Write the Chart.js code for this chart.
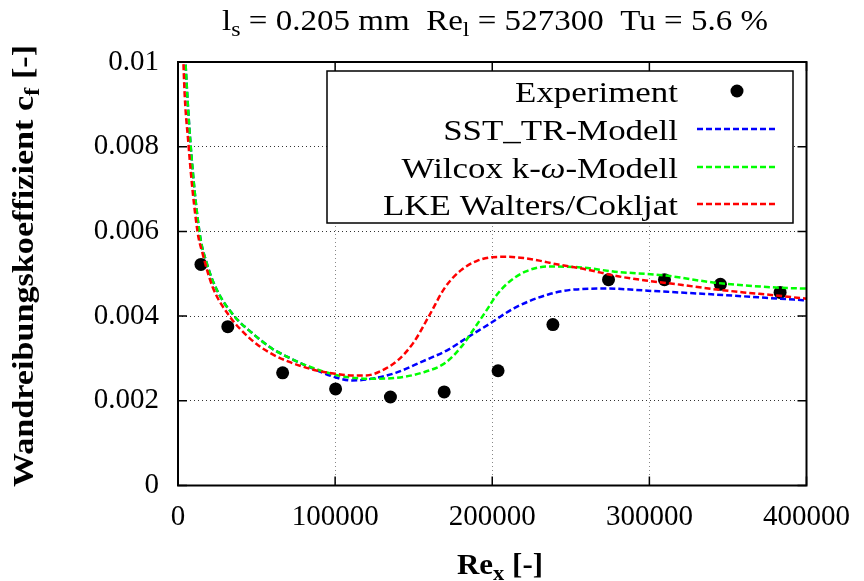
<!DOCTYPE html>
<html><head><meta charset="utf-8">
<script src="https://cdn.jsdelivr.net/npm/chart.js@4.4.1/dist/chart.umd.min.js"></script>
<style>html,body{margin:0;padding:0;background:#fff}#wrap{width:864px;height:581px}</style>
</head><body><div id="wrap"><canvas id="c" width="864" height="581"></canvas></div>
<script>
// ---- data ----
const expX = [14600, 31700, 66600, 100300, 135200, 169400, 203700, 238600, 274000, 309600, 345200, 383200];
const expY = [0.00522, 0.00375, 0.00266, 0.00228, 0.00209, 0.00221, 0.00271, 0.0038, 0.00486, 0.00486, 0.00475, 0.00456];

const sstX = [3500, 4750, 7900, 13600, 18700, 25000, 35800, 47200, 60000, 70000, 83400, 100500, 110600, 121400, 138500, 155000, 172100, 184800, 197500, 214600, 235600, 252700, 273600, 299000, 341500, 383300, 400400];
const sstY = [0.0110, 0.0100, 0.0081, 0.0060, 0.0052, 0.0046, 0.0040, 0.0036, 0.00323, 0.00303, 0.00280, 0.00255, 0.00248, 0.00251, 0.00266, 0.00292, 0.00321, 0.00351, 0.0038, 0.0042, 0.00451, 0.00463, 0.00465, 0.0046, 0.00451, 0.00441, 0.00437];

const wilX = [3500, 4750, 7900, 13600, 18700, 25000, 35800, 47200, 60000, 70000, 83400, 100500, 121400, 138500, 155000, 170300, 180400, 189300, 197500, 202000, 210200, 221000, 235600, 256500, 278000, 309800, 341500, 383300, 400400];
const wilY = [0.0110, 0.0100, 0.0081, 0.0060, 0.0052, 0.0046, 0.0040, 0.0036, 0.00323, 0.00303, 0.00281, 0.00261, 0.00252, 0.00254, 0.00266, 0.0029, 0.00328, 0.00375, 0.0042, 0.00446, 0.00479, 0.00505, 0.00517, 0.00515, 0.00505, 0.00496, 0.00479, 0.00467, 0.00465];

const lkeX = [3000, 3490, 6660, 12400, 15500, 21900, 32700, 40000, 50000, 60000, 70000, 80000, 90000, 100000, 110000, 120000, 130000, 140000, 150000, 160000, 170000, 180000, 190000, 200000, 210000, 220000, 230000, 240000, 260000, 280000, 300000, 320000, 340000, 360000, 380000, 400000];
const lkeY = [0.0108, 0.00995, 0.00806, 0.0060, 0.0055, 0.0047, 0.0040, 0.00368, 0.00334, 0.00310, 0.00293, 0.00280, 0.00270, 0.00264, 0.0026, 0.0026, 0.00272, 0.00296, 0.00338, 0.00402, 0.00468, 0.00508, 0.0053, 0.00539, 0.0054, 0.00537, 0.00531, 0.00523, 0.0051, 0.00494, 0.00483, 0.00474, 0.00464, 0.00456, 0.00449, 0.00441];

const xTicks = [0, 100000, 200000, 300000, 400000];
const xTickLabels = ['0', '100000', '200000', '300000', '400000'];
const yTicks = [0, 0.002, 0.004, 0.006, 0.008, 0.01];
const yTickLabels = ['0', '0.002', '0.004', '0.006', '0.008', '0.01'];

const seriesNames = ['Experiment', 'SST_TR-Modell', 'Wilcox k-\u03c9-Modell', 'LKE Walters/Cokljat'];
const seriesColors = ['#000000', '#0000ff', '#00ff00', '#ff0000'];

// ---- helpers ----
const FONT = '"Liberation Serif", "DejaVu Serif", serif';
const pts = (xs, ys) => xs.map((x, i) => ({x: x, y: ys[i]}));

function drawRich(ctx, parts, x, y, o) {
  const size = o.size, sub = Math.round(size * 0.72);
  const fnt = (p) => (p.italic ? 'italic ' : '') + (o.bold ? 'bold ' : '') + (p.sub ? sub : size) + 'px ' + FONT;
  let total = 0;
  const ws = parts.map(p => { ctx.font = fnt(p); const w = ctx.measureText(p.t).width; total += w; return w; });
  const sx = o.width ? o.width / total : (o.hscale || 1);
  ctx.save();
  ctx.translate(x, y);
  if (o.rotate) ctx.rotate(o.rotate);
  ctx.scale(sx, 1);
  ctx.fillStyle = '#000';
  ctx.textBaseline = 'alphabetic';
  ctx.textAlign = 'left';
  let cx = o.align === 'center' ? -total / 2 : (o.align === 'right' ? -total : 0);
  parts.forEach((p, i) => {
    ctx.font = fnt(p);
    ctx.fillText(p.t, cx, p.sub ? size * 0.2 : 0);
    cx += ws[i];
  });
  ctx.restore();
  return total;
}

const decor = {
  id: 'decor',
  beforeDraw(chart) {
    const ctx = chart.ctx;
    ctx.save(); ctx.fillStyle = '#fff'; ctx.fillRect(0, 0, chart.width, chart.height); ctx.restore();
  },
  afterDatasetsDraw(chart) {
    const ctx = chart.ctx, a = chart.chartArea;
    const xs = chart.scales.x, ys = chart.scales.y;
    ctx.save();
    // border
    ctx.strokeStyle = '#000'; ctx.lineWidth = 2;
    ctx.strokeRect(a.left, a.top, a.right - a.left, a.bottom - a.top);
    // inward ticks (mirrored)
    ctx.lineWidth = 1.5;
    ctx.beginPath();
    yTicks.forEach(v => {
      const py = ys.getPixelForValue(v);
      ctx.moveTo(a.left, py); ctx.lineTo(a.left + 9, py);
      ctx.moveTo(a.right, py); ctx.lineTo(a.right - 9, py);
    });
    xTicks.forEach(v => {
      const px = xs.getPixelForValue(v);
      ctx.moveTo(px, a.bottom); ctx.lineTo(px, a.bottom - 9);
      ctx.moveTo(px, a.top); ctx.lineTo(px, a.top + 9);
    });
    ctx.stroke();

    // legend box
    const bx = 327, by = 71, bw = 466, bh = 152;
    ctx.fillStyle = '#fff';
    ctx.fillRect(bx, by, bw, bh);
    ctx.strokeStyle = '#000'; ctx.lineWidth = 1.5;
    ctx.strokeRect(bx, by, bw, bh);
    ctx.font = '29px ' + FONT;
    const hs = 295 / ctx.measureText(seriesNames[3]).width;
    const rowsBase = [102, 140, 178, 215];
    const rowsMid = [91, 129, 167, 204];
    const legendParts = [
      [{t: 'Experiment'}],
      [{t: 'SST_TR-Modell'}],
      [{t: 'Wilcox k-'}, {t: '\u03c9', italic: true}, {t: '-Modell'}],
      [{t: 'LKE Walters/Cokljat'}]
    ];
    legendParts.forEach((p, i) => drawRich(ctx, p, 678, rowsBase[i], {size: 29, align: 'right', hscale: hs}));
    ctx.fillStyle = '#000';
    ctx.beginPath(); ctx.arc(737, rowsMid[0], 6.5, 0, Math.PI * 2); ctx.fill();
    ctx.lineWidth = 2.5; ctx.setLineDash([6, 3]);
    for (let i = 1; i < 4; i++) {
      ctx.strokeStyle = seriesColors[i];
      ctx.beginPath(); ctx.moveTo(697, rowsMid[i]); ctx.lineTo(775, rowsMid[i]); ctx.stroke();
    }
    ctx.setLineDash([]);

    // title
    drawRich(ctx, [{t: 'l'}, {t: 's', sub: true}, {t: ' = 0.205 mm  Re'}, {t: 'l', sub: true}, {t: ' = 527300  Tu = 5.6 %'}],
      495, 30, {size: 29, align: 'center', width: 546});
    // x axis title
    drawRich(ctx, [{t: 'Re'}, {t: 'x', sub: true}, {t: ' [-]'}], 500, 574, {size: 29, bold: true, align: 'center', width: 86});
    // y axis title
    drawRich(ctx, [{t: 'Wandreibungskoeffizient c'}, {t: 'f', sub: true}, {t: ' [-]'}], 33, 266,
      {size: 29, bold: true, align: 'center', width: 442, rotate: -Math.PI / 2});
    ctx.restore();
  }
};

const lineDs = (label, xs, ys, color, order) => ({
  label: label, data: pts(xs, ys), showLine: true, borderColor: color, backgroundColor: color,
  borderWidth: 2.5, borderDash: [6, 3], pointRadius: 0, fill: false,
  cubicInterpolationMode: 'monotone', order: order
});

new Chart(document.getElementById('c'), {
  type: 'scatter',
  data: {
    datasets: [
      {label: seriesNames[0], data: pts(expX, expY), pointRadius: 6.5, pointBorderWidth: 0,
       backgroundColor: '#000', borderColor: '#000', showLine: false, order: 4},
      lineDs(seriesNames[1], sstX, sstY, seriesColors[1], 3),
      lineDs(seriesNames[2], wilX, wilY, seriesColors[2], 2),
      lineDs(seriesNames[3], lkeX, lkeY, seriesColors[3], 1)
    ]
  },
  options: {
    responsive: false, animation: false, devicePixelRatio: 1,
    layout: {padding: {top: 62, right: 54, left: 0, bottom: 0}},
    plugins: {legend: {display: false}, tooltip: {enabled: false}, title: {display: false}},
    scales: {
      x: {
        type: 'linear', min: 0, max: 400000,
        afterBuildTicks: s => { s.ticks = xTicks.map(v => ({value: v})); },
        afterFit: s => { s.height = 95.5; },
        ticks: {callback: v => xTickLabels[xTicks.indexOf(v)], font: {family: FONT, size: 29}, color: '#000',
                padding: 14, maxRotation: 0, autoSkip: false},
        grid: {drawTicks: false, lineWidth: 1,
               color: c => (c.index === 0 || c.index === xTicks.length - 1) ? 'rgba(0,0,0,0)' : '#888'},
        border: {display: false, dash: [1, 3]}
      },
      y: {
        type: 'linear', min: 0, max: 0.01,
        afterBuildTicks: s => { s.ticks = yTicks.map(v => ({value: v})); },
        afterFit: s => { s.width = 178; },
        ticks: {callback: v => yTickLabels[yTicks.indexOf(v)], font: {family: FONT, size: 29}, color: '#000',
                padding: 19, autoSkip: false},
        grid: {drawTicks: false, lineWidth: 1,
               color: c => (c.index === 0 || c.index === yTicks.length - 1) ? 'rgba(0,0,0,0)' : '#333'},
        border: {display: false, dash: [1, 3]}
      }
    }
  },
  plugins: [decor]
});
</script></body></html>
